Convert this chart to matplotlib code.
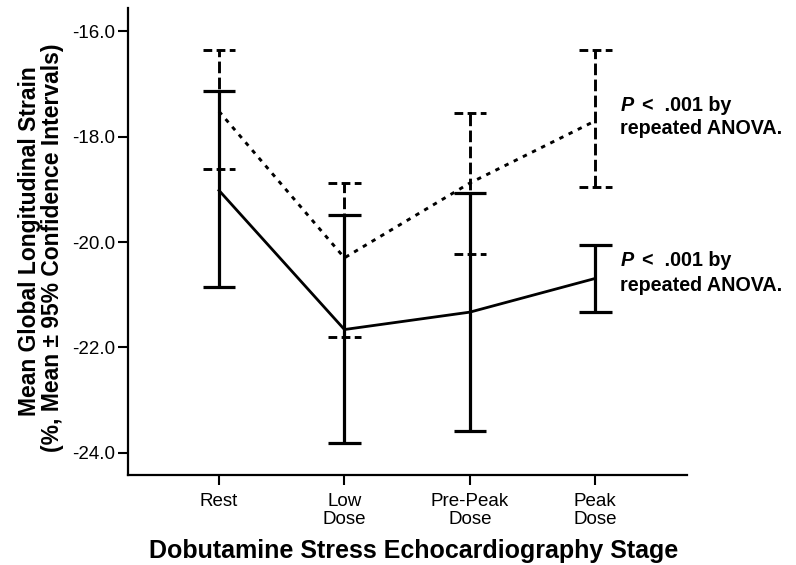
import matplotlib
matplotlib.use("Agg")
import matplotlib.pyplot as plt
import numpy as np

plt.rcParams["font.family"] = ["Liberation Sans", "DejaVu Sans"]

stages = ["Rest", "Low\nDose", "Pre-Peak\nDose", "Peak\nDose"]

# group A (solid line): mean and 95% CI
mean_a = [-19.02, -21.66, -21.33, -20.69]
low_a = [-20.85, -23.82, -23.58, -21.33]
high_a = [-17.13, -19.48, -19.07, -20.06]

# group B (dotted line): mean and 95% CI
mean_b = [-17.52, -20.30, -18.88, -17.70]
low_b = [-18.62, -21.80, -20.22, -18.95]
high_b = [-16.36, -18.88, -17.55, -16.36]

yticks = [-16.0, -18.0, -20.0, -22.0, -24.0]
pval_text = ["P", "<  .001 by", "repeated ANOVA."]

x = np.arange(len(stages))
cap = 0.13

fig = plt.figure(figsize=(7.96, 5.65), dpi=100)
ax = fig.add_axes([0.1608, 0.1593, 0.7022, 0.8265])

# group B: dotted mean line, dashed CI bars
ax.plot(x, mean_b, color="black", lw=2.1, linestyle=(0, (1.5, 2.0)), zorder=3)
ax.vlines(x, low_b, high_b, color="black", lw=2.1, linestyles=[(0, (4, 1.5))], zorder=2)
ax.hlines(high_b, x - cap, x + cap, color="black", lw=2.1, linestyles=[(0, (3, 1.5))], zorder=2)
ax.hlines(low_b, x - cap, x + cap, color="black", lw=2.1, linestyles=[(0, (3, 1.5))], zorder=2)

# group A: solid mean line and CI bars
ax.plot(x, mean_a, color="black", lw=2.0, zorder=3)
ax.vlines(x, low_a, high_a, color="black", lw=2.3, zorder=2)
ax.hlines(high_a, x - cap, x + cap, color="black", lw=2.3, zorder=2)
ax.hlines(low_a, x - cap, x + cap, color="black", lw=2.3, zorder=2)

ax.set_xlim(-0.725, 3.73)
ax.set_ylim(-24.42, -15.56)
ax.set_xticks(x)
ax.set_xticklabels(stages, fontsize=13.5, linespacing=1.05)
ax.set_yticks(yticks)
ax.set_yticklabels([f"{v:.1f}" for v in yticks], fontsize=13.5)
ax.tick_params(axis="both", direction="out", length=7, width=1.5, color="black")
ax.tick_params(axis="x", pad=6)
ax.tick_params(axis="y", pad=2)
for s in ["top", "right"]:
    ax.spines[s].set_visible(False)
for s in ["left", "bottom"]:
    ax.spines[s].set_linewidth(1.6)

# p-value notes next to the last stage
for y1, y2 in [(-17.40, -17.84), (-20.35, -20.82)]:
    ax.text(3.198, y1, pval_text[0], fontsize=14.2, fontweight="bold",
            fontstyle="italic", va="center", ha="left")
    ax.annotate(pval_text[1], xy=(3.198, y1), xytext=(16, 0),
                textcoords="offset points", fontsize=14.2, fontweight="bold",
                va="center", ha="left")
    ax.text(3.198, y2, pval_text[2], fontsize=14.2, fontweight="bold",
            va="center", ha="left")

fig.text(30 / 796, 0.573, "Mean Global Longitudinal Strain", rotation=90,
         fontsize=16.5, fontweight="bold", ha="center", va="center")
fig.text(53 / 796, 0.562, "(%, Mean \u00b1 95% Confidence Intervals)", rotation=90,
         fontsize=16.5, fontweight="bold", ha="center", va="center")
fig.text(414 / 796, 1 - 551 / 565, "Dobutamine Stress Echocardiography Stage",
         fontsize=18, fontweight="bold", ha="center", va="center")

fig.savefig("out.png", dpi=100)
